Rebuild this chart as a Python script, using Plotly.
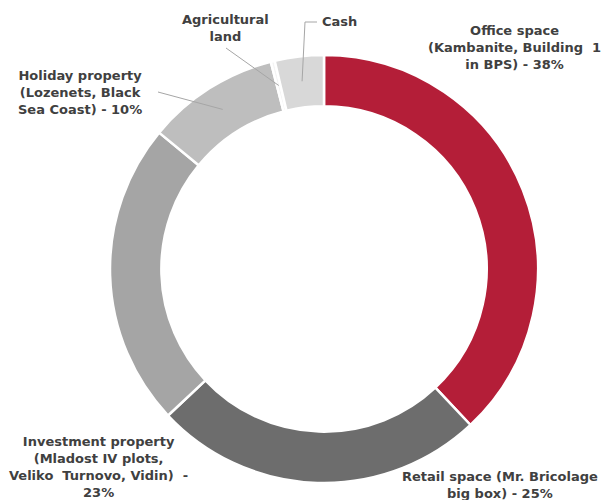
import math
import plotly.graph_objects as go

labels = ["Office space (Kambanite, Building 1 in BPS)",
          "Retail space (Mr. Bricolage big box)",
          "Investment property (Mladost IV plots, Veliko Turnovo, Vidin)",
          "Holiday property (Lozenets, Black Sea Coast)",
          "Agricultural land",
          "Cash"]
values = [38, 25, 23, 10, 0.3, 3.7]
colors = ["#B41E38", "#6D6D6D", "#A5A5A5", "#BEBEBE", "#F4F4F4", "#D8D8D8"]
label_texts = ["Office space<br>(Kambanite, Building  1<br>in BPS) - 38%",
               "Retail space (Mr. Bricolage<br>big box) - 25%",
               "Investment property<br>(Mladost IV plots,<br>Veliko  Turnovo, Vidin)  -<br>23%",
               "Holiday property<br>(Lozenets, Black<br>Sea Coast) - 10%",
               "Agricultural<br>land",
               "Cash"]

W, H = 611, 500
cx, cy, R = 324, 269, 214

fig = go.Figure(go.Pie(
    labels=labels, values=values, sort=False, direction="clockwise", rotation=0,
    hole=0.76, textinfo="none", hoverinfo="label+percent",
    marker=dict(colors=colors, line=dict(color="white", width=2.5)),
    domain=dict(x=[(cx - R) / W, (cx + R) / W], y=[(H - cy - R) / H, (H - cy + R) / H]),
    showlegend=False,
))

font = dict(family="DejaVu Sans", size=13, color="#404040")
# label positions (pixels): x, y, xanchor, align
pos = [(514, 48, "center", "center"),
       (500, 485, "center", "center"),
       (98, 467, "center", "center"),
       (80, 93, "center", "center"),
       (226, 28, "center", "center"),
       (320, 21, "left", "left")]
for t, (px, py, xa, al) in zip(label_texts, pos):
    fig.add_annotation(x=px / W, y=1 - py / H, xref="paper", yref="paper",
                       text="<b>" + t + "</b>", showarrow=False, font=font,
                       xanchor=xa, yanchor="middle", align=al)

# leader lines from slice midpoints
total = sum(values)
cum = 0
mids = []
for v in values:
    mids.append((cum + v / 2) / total * 2 * math.pi)
    cum += v

def pt(ang, r):
    return cx + r * math.sin(ang), cy - r * math.cos(ang)

leader_ends = {3: [(158, 92)], 4: [(226, 48)], 5: [(305, 22), (317, 22)]}
for i, ends in leader_ends.items():
    sx, sy = pt(mids[i], 189)
    pts = [(sx, sy)] + ends
    path = "M " + " L ".join(f"{x / W},{1 - y / H}" for x, y in pts)
    fig.add_shape(type="path", path=path, xref="paper", yref="paper",
                  line=dict(color="#A6A6A6", width=1))

fig.update_layout(width=W, height=H, margin=dict(l=0, r=0, t=0, b=0),
                  paper_bgcolor="white", plot_bgcolor="white")
fig.write_html("out.html")
